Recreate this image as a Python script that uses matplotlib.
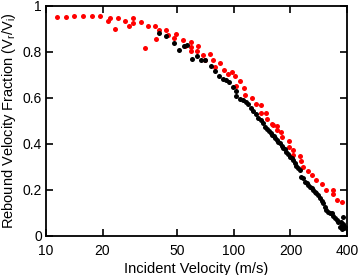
import matplotlib
matplotlib.use("Agg")
import matplotlib.pyplot as plt
from matplotlib.ticker import FixedLocator, FixedFormatter, NullLocator

plt.rcParams['font.family'] = ['Liberation Sans', 'DejaVu Sans']
plt.rcParams['mathtext.fontset'] = 'custom'
plt.rcParams['mathtext.rm'] = 'Liberation Sans'
plt.rcParams['mathtext.it'] = 'Liberation Sans'

black_v = [39.9, 43.7, 47.8, 51.3, 54.5, 56.0, 60.0, 63.8, 67.2, 70.5, 75.4, 79.7, 83.6, 87.8, 90.6,
           94.4, 99.1, 103, 102.5, 107.7, 112, 116, 119, 123, 127, 131, 135, 139, 143, 147, 150, 154,
           157, 160, 163, 166, 169, 172, 176, 180, 183, 187, 190, 195, 199, 203, 206, 211, 215, 220,
           224, 229, 234, 239, 244, 249, 254, 259, 264, 270, 275, 281, 287, 293, 299, 305, 311, 318,
           325, 331, 338, 345, 352, 359, 366, 374, 380, 385, 390, 370, 378, 383]
black_f = [0.883, 0.870, 0.840, 0.809, 0.823, 0.830, 0.767, 0.783, 0.764, 0.763, 0.739, 0.714, 0.696,
           0.683, 0.677, 0.667, 0.648, 0.630, 0.609, 0.596, 0.590, 0.580, 0.571, 0.557, 0.542, 0.528,
           0.513, 0.502, 0.489, 0.471, 0.465, 0.455, 0.445, 0.440, 0.433, 0.424, 0.414, 0.408, 0.401,
           0.392, 0.383, 0.375, 0.366, 0.355, 0.343, 0.336, 0.329, 0.315, 0.305, 0.295, 0.286, 0.257,
           0.249, 0.235, 0.228, 0.219, 0.212, 0.206, 0.199, 0.192, 0.185, 0.177, 0.165, 0.153, 0.141,
           0.125, 0.112, 0.105, 0.099, 0.097, 0.085, 0.076, 0.068, 0.061, 0.037, 0.047, 0.050, 0.035,
           0.040, 0.060, 0.030, 0.080]

red_v = [11.4, 12.8, 14.1, 15.7, 17.5, 19.5, 21.4, 21.9, 23.2, 24.1, 26.3, 27.6, 28.9, 28.9, 32.1,
         33.7, 34.7, 38.1, 38.6, 40.1, 43.6, 44.7, 48.1, 49.3, 53.3, 54.7, 58.9, 59.3, 59.3, 64.6,
         63.3, 68.2, 74.5, 70.6, 77.6, 84.3, 79.3, 88.5, 97.2, 93.3, 101, 107.6, 102.6, 113.5, 114.5,
         125, 131, 140, 139, 148.6, 150, 160, 162, 170, 169, 179, 181, 197, 197, 206, 206, 224, 228,
         233, 248, 262, 275, 295, 311, 337, 337, 356, 374]
red_f = [0.952, 0.952, 0.954, 0.955, 0.955, 0.954, 0.935, 0.948, 0.899, 0.945, 0.935, 0.910, 0.945,
         0.923, 0.928, 0.815, 0.912, 0.913, 0.854, 0.894, 0.893, 0.874, 0.860, 0.877, 0.851, 0.826,
         0.843, 0.822, 0.804, 0.825, 0.804, 0.786, 0.790, 0.764, 0.764, 0.752, 0.732, 0.720, 0.713,
         0.703, 0.694, 0.673, 0.651, 0.641, 0.610, 0.600, 0.571, 0.570, 0.535, 0.535, 0.507, 0.486,
         0.483, 0.478, 0.460, 0.452, 0.428, 0.413, 0.387, 0.373, 0.351, 0.347, 0.323, 0.300, 0.283,
         0.264, 0.242, 0.223, 0.200, 0.200, 0.180, 0.155, 0.147]

x_ticks = [10, 20, 50, 100, 200, 400]
x_labels = ['10', '20', '50', '100', '200', '400']
y_ticks = [0, 0.2, 0.4, 0.6, 0.8, 1]
y_labels = ['0', '0.2', '0.4', '0.6', '0.8', '1']

fig = plt.figure(figsize=(3.58, 2.75), dpi=100)
ax = fig.add_axes([46/358, 1-235.7/275, (347-46)/358, (235.7-5.7)/275])

ax.plot(red_v, red_f, 'o', color='#ff0000', markersize=3.6, markeredgewidth=0, zorder=2)
ax.plot(black_v, black_f, 'o', color='black', markersize=3.6, markeredgewidth=0, zorder=3)

ax.set_xscale('log')
ax.set_xlim(10, 400)
ax.set_ylim(0, 1)
ax.xaxis.set_major_locator(FixedLocator(x_ticks))
ax.xaxis.set_major_formatter(FixedFormatter(x_labels))
ax.xaxis.set_minor_locator(NullLocator())
ax.yaxis.set_major_locator(FixedLocator(y_ticks))
ax.yaxis.set_major_formatter(FixedFormatter(y_labels))

for s in ax.spines.values():
    s.set_linewidth(1.3)
ax.tick_params(direction='in', length=5, width=1.2, top=True, right=True, labelsize=10)
ax.tick_params(axis='x', pad=6)
ax.tick_params(axis='y', pad=3)

ax.set_xlabel('Incident Velocity (m/s)', fontsize=10.5, labelpad=3)
ax.set_ylabel('Rebound Velocity Fraction (V$_r$/V$_i$)', fontsize=10.5, labelpad=3)

fig.savefig('out.png', dpi=100)
